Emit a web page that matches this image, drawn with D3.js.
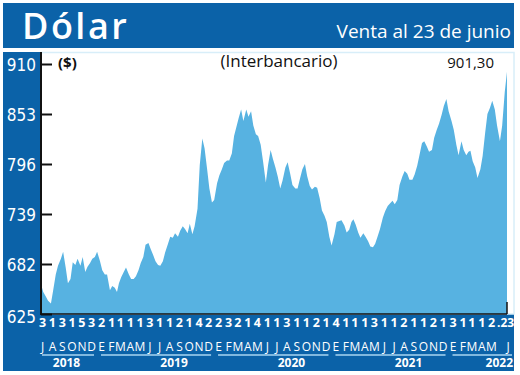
<!DOCTYPE html>
<html>
<head>
<meta charset="utf-8">
<script src="https://cdn.jsdelivr.net/npm/d3@7"></script>
<style>
  body { margin: 0; background: #fff; }
  text { font-family: 'Open Sans', sans-serif; }
  .narrow { font-family: 'Liberation Sans Narrow', 'DejaVu Sans Condensed', sans-serif; }
</style>
</head>
<body>
<svg id="chart" width="520" height="375"></svg>
<script>
// months shown on the time axis (Jul 2018 .. Jun 2022)
const months = [
  '2018-07', '2018-08', '2018-09', '2018-10', '2018-11', '2018-12',
  '2019-01', '2019-02', '2019-03', '2019-04', '2019-05', '2019-06',
  '2019-07', '2019-08', '2019-09', '2019-10', '2019-11', '2019-12',
  '2020-01', '2020-02', '2020-03', '2020-04', '2020-05', '2020-06',
  '2020-07', '2020-08', '2020-09', '2020-10', '2020-11', '2020-12',
  '2021-01', '2021-02', '2021-03', '2021-04', '2021-05', '2021-06',
  '2021-07', '2021-08', '2021-09', '2021-10', '2021-11', '2021-12',
  '2022-01', '2022-02', '2022-03', '2022-04', '2022-05', '2022-06'
];
const monthLetters = [
  'J', 'A', 'S', 'O', 'N', 'D',
  'E', 'F', 'M', 'A', 'M', 'J', 'J', 'A', 'S', 'O', 'N', 'D',
  'E', 'F', 'M', 'A', 'M', 'J', 'J', 'A', 'S', 'O', 'N', 'D',
  'E', 'F', 'M', 'A', 'M', 'J', 'J', 'A', 'S', 'O', 'N', 'D',
  'E', 'F', 'M', 'A', 'M', 'J'
];
// first quoted day of each month
const dayLabels = [
  '3', '1', '3', '1', '5', '3',
  '2', '1', '1', '1', '1', '3', '1', '1', '2', '1', '4', '2',
  '2', '3', '2', '1', '4', '1', '1', '3', '1', '1', '2', '1',
  '4', '1', '1', '1', '3', '1', '1', '2', '1', '1', '2', '1',
  '3', '1', '1', '1', '2', '.23'
];
const years = ['2018', '2019', '2020', '2021', '2022'];

// sampled days inside every month, and dollar values read for them
const pointDays = [1, 8, 16, 23];
const values = [
  [659, 650, 645, 640], [637, 652, 670, 680], [688, 696, 678, 660],
  [665, 684, 681, 688], [680, 690, 673, 679], [683, 688, 690, 696],
  [685, 675, 670, 670], [652, 657, 655, 650], [660, 667, 673, 678],
  [670, 665, 665, 668], [675, 683, 690, 704], [706, 699, 692, 685],
  [681, 680, 685, 695], [705, 713, 712, 717], [713, 720, 725, 722],
  [717, 728, 716, 725], [745, 795, 825, 814], [790, 768, 752, 755],
  [774, 783, 790, 797], [800, 800, 808, 828], [838, 848, 858, 845],
  [858, 850, 856, 840], [830, 828, 818, 800], [775, 795, 812, 802],
  [792, 782, 768, 777], [792, 798, 785, 772], [768, 768, 780, 790],
  [796, 782, 771, 767], [770, 769, 757, 743], [737, 730, 713, 703],
  [716, 730, 731, 732], [726, 718, 721, 730], [733, 727, 718, 712],
  [717, 713, 708, 702], [701, 705, 714, 722], [735, 742, 748, 751],
  [754, 750, 755, 772], [782, 788, 785, 778], [778, 784, 794, 806],
  [820, 822, 816, 810], [812, 826, 835, 842], [852, 862, 870, 856],
  [845, 835, 818, 806], [822, 812, 806, 810], [811, 799, 792, 780],
  [790, 805, 832, 853], [860, 868, 858, 840], [822, 840, 878, 901.3]
];
const yTicks = [625, 682, 739, 796, 853, 910];

const BLUE = '#0b62a8';
const FILL = '#57b2e1';

const svg = d3.select('#chart');
const parseMonth = d3.timeParse('%Y-%m');

const data = [];
months.forEach((m, i) => {
  const base = parseMonth(m);
  pointDays.forEach((day, j) => {
    data.push({ date: d3.timeDay.offset(base, day - 1), value: values[i][j] });
  });
});

const plot = { left: 41, right: 507, top: 52, bottom: 314 };
const x = d3.scaleTime()
  .domain([parseMonth(months[0]), d3.max(data, d => d.date)])
  .range([plot.left, plot.right]);
const y = d3.scaleLinear()
  .domain([yTicks[0], yTicks[yTicks.length - 1]])
  .range([plot.bottom, 64]);

// backgrounds
svg.append('rect').attr('x', 3).attr('y', 3).attr('width', 511).attr('height', 45).attr('fill', BLUE);
svg.append('rect').attr('x', 3).attr('y', 52).attr('width', plot.left - 3).attr('height', plot.bottom - 52).attr('fill', BLUE);
svg.append('rect').attr('x', 3).attr('y', plot.bottom).attr('width', 511).attr('height', 57).attr('fill', BLUE);
svg.append('rect')
  .attr('x', plot.left).attr('y', 52.5)
  .attr('width', 514 - plot.left).attr('height', plot.bottom - 52.5)
  .attr('fill', 'none').attr('stroke', '#d8eef9').attr('stroke-width', 1.5);

// header
svg.append('text').attr('x', 22).attr('y', 39)
  .attr('fill', '#fff').attr('font-size', 36).attr('font-weight', 600)
  .attr('letter-spacing', 2.5).text('Dólar');
svg.append('text').attr('x', 511).attr('y', 38)
  .attr('text-anchor', 'end').attr('fill', '#fff').attr('font-size', 19)
  .text('Venta al 23 de junio');

// area
const area = d3.area()
  .x(d => x(d.date))
  .y0(y(yTicks[0]))
  .y1(d => y(d.value));
svg.append('path').datum(data).attr('d', area).attr('fill', FILL);

// y axis
const yAxis = svg.append('g').attr('transform', `translate(${plot.left},0)`)
  .call(d3.axisRight(y).tickValues(yTicks).tickSize(11).tickFormat(''));
yAxis.select('.domain').remove();
yAxis.selectAll('.tick line').attr('stroke', '#111').attr('stroke-width', 2);
svg.append('line')
  .attr('x1', plot.left).attr('x2', plot.left)
  .attr('y1', 52).attr('y2', plot.bottom + 1)
  .attr('stroke', '#111').attr('stroke-width', 2);
svg.append('line')
  .attr('x1', plot.left).attr('x2', plot.right)
  .attr('y1', plot.bottom).attr('y2', plot.bottom)
  .attr('stroke', '#111').attr('stroke-width', 1.5);
svg.append('line')
  .attr('x1', plot.right).attr('x2', plot.right)
  .attr('y1', plot.bottom - 12).attr('y2', plot.bottom)
  .attr('stroke', '#111').attr('stroke-width', 1.5);

svg.append('g').selectAll('text').data(yTicks).join('text')
  .attr('class', 'narrow')
  .attr('x', 36).attr('y', d => y(d) + (d === yTicks[0] ? 9 : 7))
  .attr('text-anchor', 'end').attr('fill', '#fff').attr('font-size', 17)
  .text(d => d);

// labels above the plot
svg.append('text').attr('x', 58).attr('y', 68)
  .attr('font-size', 15).attr('font-weight', 700).attr('fill', '#111').text('($)');
svg.append('text').attr('x', 279).attr('y', 67)
  .attr('text-anchor', 'middle').attr('font-size', 17).attr('font-weight', 500)
  .attr('fill', '#111').text('(Interbancario)');
svg.append('text').attr('x', 494).attr('y', 68)
  .attr('text-anchor', 'end').attr('font-size', 15).attr('fill', '#111').text('901,30');

// time axis: one slot per month, evenly spread like the printed scale
const last = months.length - 1;
const slotX = (m, i) => x(parseMonth(m)) + 1.5;
const bottom = svg.append('g').attr('class', 'narrow').attr('fill', '#fff');
bottom.selectAll('.day').data(months).join('text')
  .attr('class', 'day')
  .attr('x', (m, i) => (i === last ? 497 : slotX(m, i)))
  .attr('y', 327)
  .attr('text-anchor', (m, i) => (i === last ? 'start' : 'middle'))
  .attr('font-size', (m, i) => (i === last ? 12 : 12.5)).attr('font-weight', 700)
  .text((m, i) => dayLabels[i]);
bottom.selectAll('.mon').data(months).join('text')
  .attr('class', 'mon')
  .attr('x', (m, i) => (i === last ? 508 : slotX(m, i)))
  .attr('y', 351)
  .attr('text-anchor', 'middle').attr('font-size', 12)
  .text((m, i) => monthLetters[i]);

const yearSpan = yr => {
  const start = Math.max(x(new Date(+yr, 0, 1)), plot.left);
  const end = Math.min(x(new Date(+yr + 1, 0, 1)), 514);
  return [start, end];
};
bottom.selectAll('.yline').data(years).join('line')
  .attr('class', 'yline')
  .attr('x1', d => yearSpan(d)[0] + 1)
  .attr('x2', d => yearSpan(d)[1] - (d === '2022' ? 2 : 6))
  .attr('y1', 355).attr('y2', 355)
  .attr('stroke', '#a9d6f2').attr('stroke-width', 1.5);
bottom.selectAll('.year').data(years).join('text')
  .attr('class', 'year')
  .attr('x', d => {
    if (d === '2022') return 513;
    if (d === '2018') return (yearSpan(d)[0] + yearSpan(d)[1]) / 2 - 4;
    return x(new Date(+d, 7, 20));
  })
  .attr('y', 367)
  .attr('text-anchor', d => (d === '2022' ? 'end' : 'middle'))
  .attr('font-size', 12).attr('font-weight', 700)
  .text(d => d);
</script>
</body>
</html>
